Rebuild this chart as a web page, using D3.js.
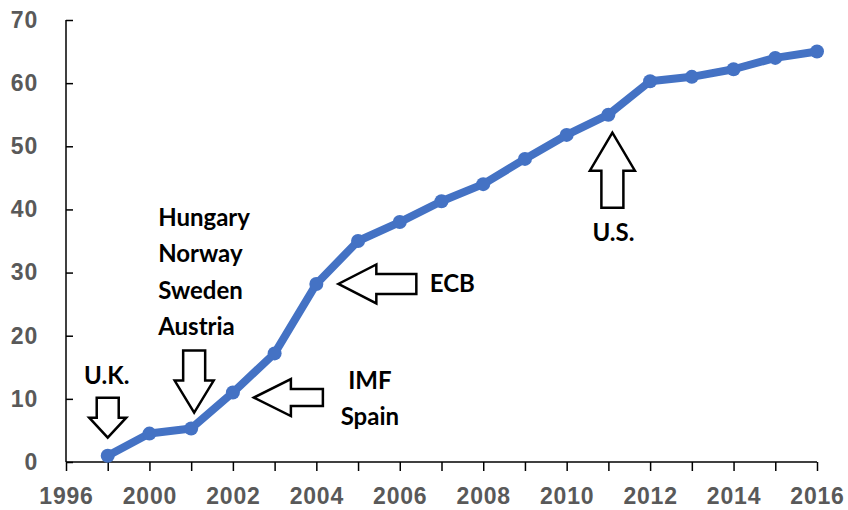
<!DOCTYPE html>
<html>
<head>
<meta charset="utf-8">
<script src="https://cdn.jsdelivr.net/npm/d3@7"></script>
<style>
  body { margin: 0; background: #fff; }
  svg { display: block; font-family: Lato, "Open Sans", sans-serif; }
  .axis text { fill: #595959; font-size: 23px; font-weight: 700; letter-spacing: 0.8px; }
  .axis path, .axis line { stroke: #000; stroke-width: 1.5; }
  .note { fill: #000; font-size: 24px; font-weight: 700; }
</style>
</head>
<body>
<svg class="canvas"></svg>
<script>
// category axis: the first slot has no value, labels sit on every other slot
const years = ["1996", "1997", "2000", "2001", "2002", "2003", "2004", "2005", "2006",
               "2007", "2008", "2009", "2010", "2011", "2012", "2013", "2014", "2015", "2016"];
const values = [null, 1, 4.5, 5.3, 11, 17.2, 28.2, 35, 38, 41.3, 44, 48, 51.8, 55, 60.3, 61, 62.2, 64, 65];
const yTicks = [0, 10, 20, 30, 40, 50, 60, 70];

// annotations: text lines, anchoring year, arrow direction
const notes = [
    { year: "1997", lines: ["U.K."], dir: "down" },
    { year: "2001", lines: ["Hungary", "Norway", "Sweden", "Austria"], dir: "down" },
    { year: "2002", lines: ["IMF", "Spain"], dir: "left" },
    { year: "2004", lines: ["ECB"], dir: "left" },
    { year: "2011", lines: ["U.S."], dir: "up" }
];

const w = 848;
const h = 510;
const mLeft = 66, mRight = 817, mTop = 20, mBottom = 462;

const svg = d3.select("svg.canvas").attr("width", w).attr("height", h);

const xScale = d3.scalePoint().domain(years).range([mLeft, mRight]);
const yScale = d3.scaleLinear().domain([0, 70]).range([mBottom, mTop]);

let drawAxes = () => {
    let xAxis = d3.axisBottom(xScale)
        .tickSize(9)
        .tickPadding(17)
        .tickFormat((d, i) => i % 2 === 0 ? d : "");
    let yAxis = d3.axisLeft(yScale)
        .tickValues(yTicks)
        .tickSize(-7)
        .tickPadding(28);

    svg.append("g")
        .attr("class", "axis")
        .attr("transform", "translate(0," + mBottom + ")")
        .call(xAxis)
        .call(g => g.select(".domain").attr("d", "M" + mLeft + ",0H" + mRight));

    svg.append("g")
        .attr("class", "axis")
        .attr("transform", "translate(" + mLeft + ",0)")
        .call(yAxis)
        .call(g => g.select(".domain").attr("d", "M0," + mTop + "V" + mBottom));
}

let drawLine = () => {
    const pts = years.map((y, i) => ({ year: y, v: values[i] })).filter(d => d.v !== null);
    const line = d3.line().x(d => xScale(d.year)).y(d => yScale(d.v));

    svg.append("path")
        .datum(pts)
        .attr("d", line)
        .attr("fill", "none")
        .attr("stroke", "#4472C4")
        .attr("stroke-width", 8)
        .attr("stroke-linejoin", "round");

    svg.selectAll("circle.pt")
        .data(pts)
        .enter()
        .append("circle")
        .attr("class", "pt")
        .attr("cx", d => xScale(d.year))
        .attr("cy", d => yScale(d.v))
        .attr("r", 7)
        .attr("fill", "#4472C4");
}

// block arrow with its tip at (0,0), pointing in +x direction, rotated afterwards
let arrowPath = (len, head, headW, shaftW) => {
    return "M0,0 L" + (-head) + "," + (-headW / 2) +
        " L" + (-head) + "," + (-shaftW / 2) +
        " L" + (-len) + "," + (-shaftW / 2) +
        " L" + (-len) + "," + (shaftW / 2) +
        " L" + (-head) + "," + (shaftW / 2) +
        " L" + (-head) + "," + (headW / 2) + " Z";
}

let drawNotes = () => {
    const val = y => values[years.indexOf(y)];
    const rot = { down: 90, up: -90, left: 180 };

    // shape / offset of each arrow relative to its data point
    const shapes = [
        { dx: 0, dy: -18, len: 40, head: 20, headW: 37, shaftW: 22 },
        { dx: 3, dy: -16, len: 62, head: 32, headW: 39, shaftW: 22 },
        { dx: 21, dy: 5, len: 69, head: 37, headW: 37, shaftW: 17 },
        { dx: 22, dy: 0, len: 78, head: 38, headW: 39, shaftW: 20 },
        { dx: 4, dy: 18, len: 75, head: 38, headW: 45, shaftW: 22 }
    ];
    // baseline of the first text line relative to the arrow tip
    const textPos = [
        { tx: -1, ty: -54, anchor: "middle" },
        { tx: -36, ty: -187, anchor: "start" },
        { tx: 116, ty: -9, anchor: "middle" },
        { tx: 114, ty: 8, anchor: "middle" },
        { tx: 1, ty: 108, anchor: "middle" }
    ];

    notes.forEach((n, i) => {
        const s = shapes[i];
        const tipX = xScale(n.year) + s.dx;
        const tipY = yScale(val(n.year)) + s.dy;

        svg.append("path")
            .attr("d", arrowPath(s.len, s.head, s.headW, s.shaftW))
            .attr("transform", "translate(" + tipX + "," + tipY + ") rotate(" + rot[n.dir] + ")")
            .attr("fill", "#fff")
            .attr("stroke", "#000")
            .attr("stroke-width", 2.5);

        const t = textPos[i];
        const txt = svg.append("text")
            .attr("class", "note")
            .attr("text-anchor", t.anchor)
            .attr("x", tipX + t.tx)
            .attr("y", tipY + t.ty);
        n.lines.forEach((l, j) => {
            txt.append("tspan")
                .attr("x", tipX + t.tx)
                .attr("dy", j === 0 ? 0 : 36.5)
                .text(l);
        });
    });
}

drawAxes();
drawLine();
drawNotes();
</script>
</body>
</html>
